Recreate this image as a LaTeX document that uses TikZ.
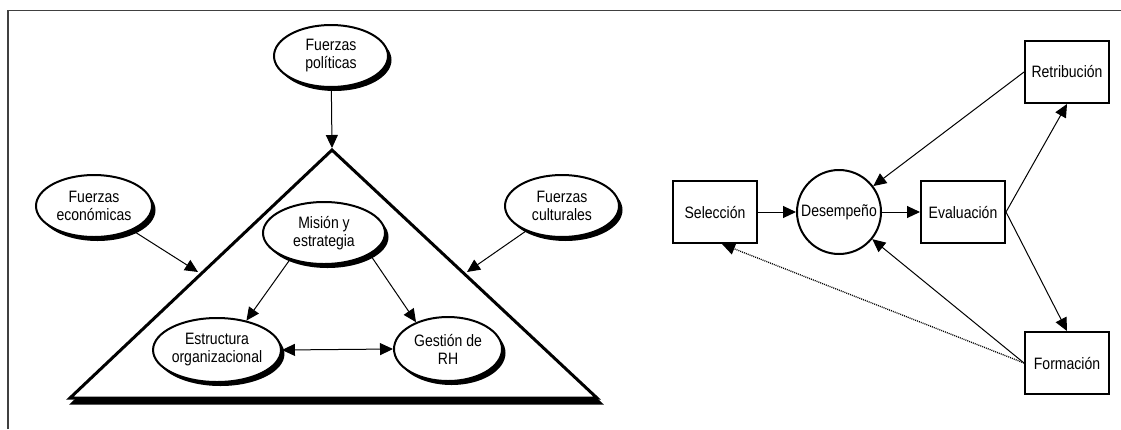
\documentclass[tikz,border=0pt]{standalone}
\usepackage{fontspec}
\setmainfont{Liberation Sans}[FakeStretch=0.85]
\usetikzlibrary{shapes.geometric,shadows,arrows.meta,calc}

\begin{document}
\begin{tikzpicture}[x=1pt,y=-1pt,
  font=\fontsize{16.5}{18}\selectfont,
  oval/.style={ellipse, draw, line width=2pt, fill=white, inner sep=0pt, align=center,
    drop shadow={shadow xshift=3.5pt, shadow yshift=-4pt, fill=black, opacity=1}},
  box/.style={rectangle, draw, line width=2pt, fill=white,
    minimum width=84pt, minimum height=62pt, inner sep=0pt},
  ring/.style={circle, draw, line width=2pt, fill=white, minimum size=84pt, inner sep=0pt},
  tip/.tip={Triangle[length=13pt,width=12pt]},
  conn/.style={line width=1pt, -tip},
  twoway/.style={line width=1pt, tip-tip},
  dotconn/.style={conn, dash pattern=on 1pt off 1pt, line width=1.3pt},
  frameline/.style={line width=1.3pt, black!75},
]
\useasboundingbox (0,0) rectangle (1121,429);

% outer frame (top and left rules)
\draw[frameline] (8,429) -- (8,10.5) -- (1121,10.5);

% ---------- left: forces acting on the organisation ----------
\coordinate (apex) at (332,150);
\coordinate (bl) at (70,398);
\coordinate (br) at (597,398);

% triangle with its shadow
\filldraw[black, line width=3pt, line join=miter]
  ([shift={(3,5)}]apex) -- ([shift={(3,5)}]bl) -- ([shift={(3,5)}]br) -- cycle;
\filldraw[draw=black, fill=white, line width=3pt, line join=miter]
  (apex) -- (bl) -- (br) -- cycle;

\node[oval, minimum width=114pt, minimum height=62pt] (pol) at (331,56) {Fuerzas\\políticas};
\node[oval, minimum width=116pt, minimum height=62pt] (eco) at (94,206) {Fuerzas\\económicas};
\node[oval, minimum width=114pt, minimum height=62pt] (cul) at (562,206) {Fuerzas\\culturales};
\node[oval, minimum width=122pt, minimum height=62pt] (mis) at (324,233) {Misión y\\estrategia};
\node[oval, minimum width=108pt, minimum height=64pt] (estr) at (217,350) {Estructura\\organizacional};
\node[oval, minimum width=108pt, minimum height=64pt] (gest) at (448,349) {Gestión de\\RH};

\coordinate (apexTip) at (332,148);
\coordinate (ecoTip) at (198,272);
\coordinate (culTip) at (467,272);

\draw[conn] (pol) -- (apexTip);
\draw[conn] (eco) -- (ecoTip);
\draw[conn] (cul) -- (culTip);
\draw[conn] (mis.218) -- (estr.45);
\draw[conn] (mis.335) -- (gest.140);
\draw[twoway] (estr.east) -- (gest.west);

% ---------- right: performance cycle ----------
\node[box] (sel) at (715,212) {Selección};
\node[ring] (des) at (839,212) {Desempeño};
\node[box] (eva) at (963,212) {Evaluación};
\node[box] (ret) at (1067,72) {Retribución};
\node[box] (form) at (1067,363) {Formación};

\coordinate (selTip) at ($(sel.south)+(7,0)$);

\draw[conn] (sel) -- (des);
\draw[conn] (des) -- (eva);
\draw[conn] (eva.east) -- (ret.south);
\draw[conn] (eva.east) -- (form.north);
\draw[conn] (ret.west) -- (des);
\draw[conn] (form.west) -- (des);
\draw[dotconn] (form.west) -- (selTip);
\end{tikzpicture}
\end{document}
